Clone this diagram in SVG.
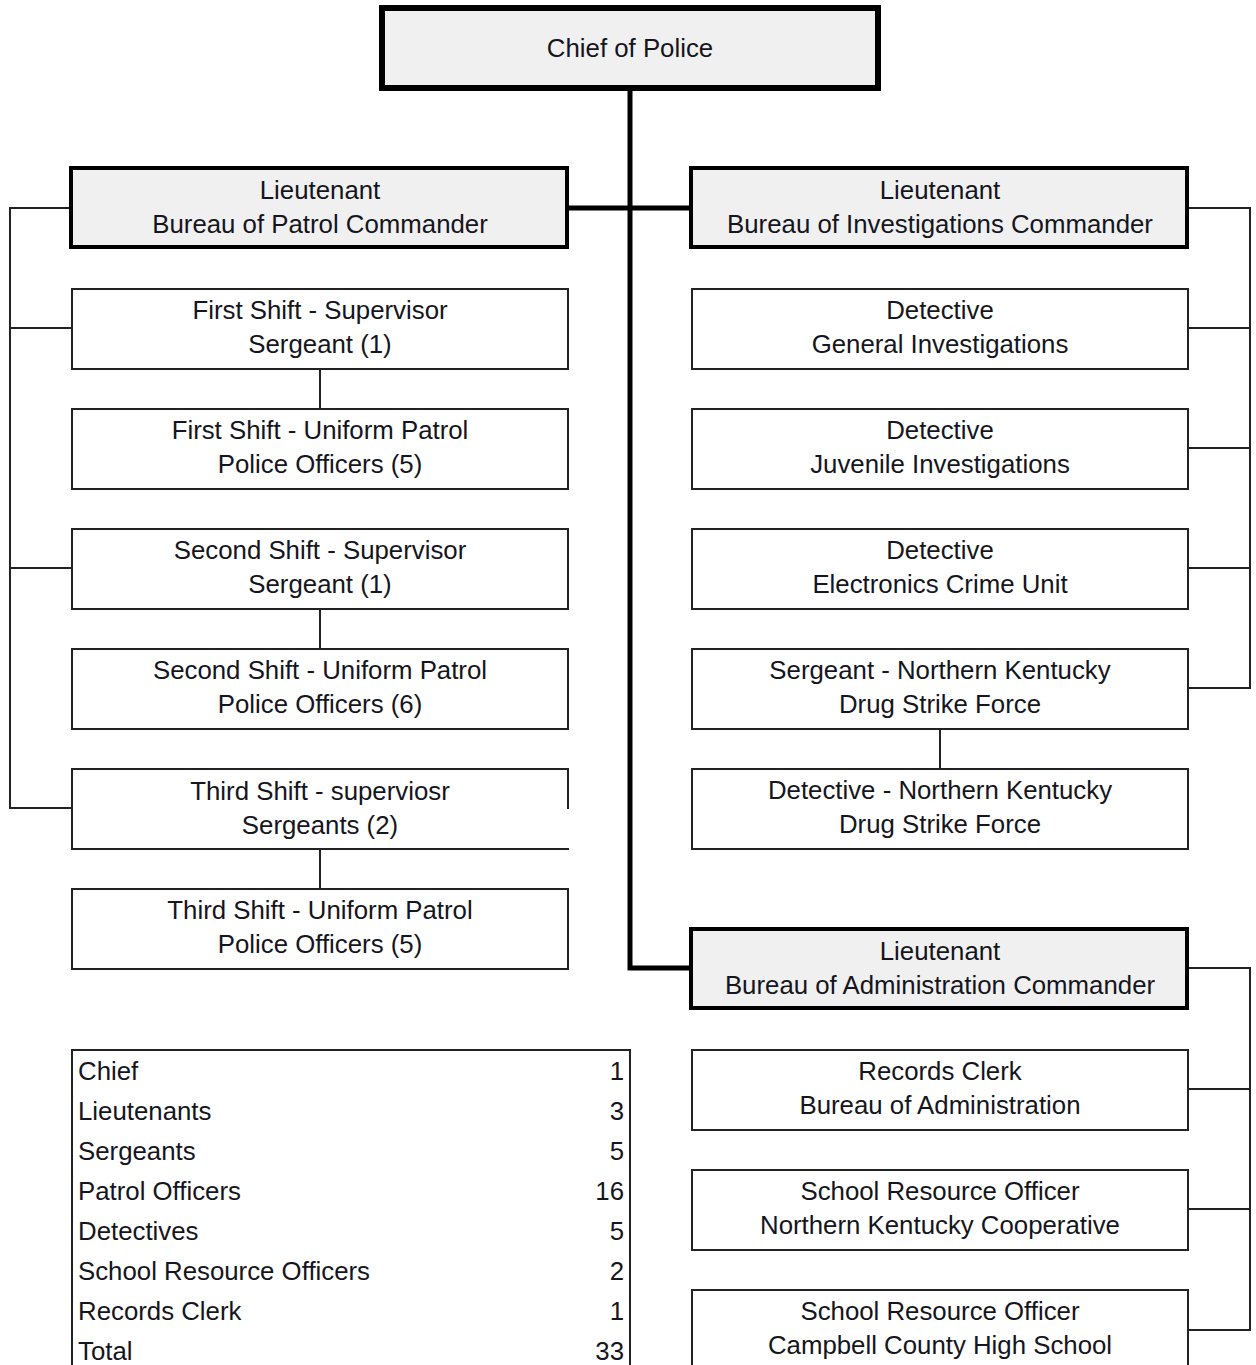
<svg xmlns="http://www.w3.org/2000/svg" width="1256" height="1365" viewBox="0 0 1256 1365">
<style>
text{font-family:"Liberation Sans",Arial,sans-serif;font-size:25.8px;fill:#151520;text-anchor:middle}
.tl{text-anchor:start}
.tr{text-anchor:end}
.box{fill:#fff;stroke:#222;stroke-width:2}
.lt{fill:#f0f0f0;stroke:#000;stroke-width:4}
.chief{fill:#f0f0f0;stroke:#000;stroke-width:6}
.thin{fill:none;stroke:#222;stroke-width:2}
.thick{fill:none;stroke:#000;stroke-width:5}
</style>
<rect width="1256" height="1365" fill="#fff"/>
<g id="connectors">
<path class="thick" d="M630 90 V968 H690"/>
<path class="thick" d="M568 208 H690"/>
<path class="thin" d="M70 208 H10 V808 H72 M10 328 H72 M10 568 H72"/>
<path class="thin" d="M320 369 V409 M320 609 V649 M320 849 V889"/>
<path class="thin" d="M1188 208 H1250 V688 H1188 M1188 328 H1250 M1188 448 H1250 M1188 568 H1250"/>
<path class="thin" d="M940 729 V769"/>
<path class="thin" d="M1188 968 H1250 V1330 H1188 M1188 1089 H1250 M1188 1209 H1250"/>
</g>
<g id="chief"><rect class="chief" x="382" y="8" width="496" height="80"/><text x="630" y="57">Chief of Police</text></g>
<g id="lt-patrol"><rect class="lt" x="71" y="168" width="496" height="79"/><text x="320" y="199">Lieutenant</text><text x="320" y="233">Bureau of Patrol Commander</text></g>
<g id="lt-invest"><rect class="lt" x="691" y="168" width="496" height="79"/><text x="940" y="199">Lieutenant</text><text x="940" y="233">Bureau of Investigations Commander</text></g>
<g id="lt-admin"><rect class="lt" x="691" y="929" width="496" height="79"/><text x="940" y="960">Lieutenant</text><text x="940" y="994">Bureau of Administration Commander</text></g>
<g id="first-sup"><rect class="box" x="72" y="289" width="496" height="80"/><text x="320" y="319">First Shift - Supervisor</text><text x="320" y="353">Sergeant (1)</text></g>
<g id="first-patrol"><rect class="box" x="72" y="409" width="496" height="80"/><text x="320" y="439">First Shift - Uniform Patrol</text><text x="320" y="473">Police Officers (5)</text></g>
<g id="second-sup"><rect class="box" x="72" y="529" width="496" height="80"/><text x="320" y="559">Second Shift - Supervisor</text><text x="320" y="593">Sergeant (1)</text></g>
<g id="second-patrol"><rect class="box" x="72" y="649" width="496" height="80"/><text x="320" y="679">Second Shift - Uniform Patrol</text><text x="320" y="713">Police Officers (6)</text></g>
<g id="third-sup"><path class="thin" d="M568 809 V769 H72 V849 H569"/><text x="320" y="800">Third Shift - superviosr</text><text x="320" y="834">Sergeants (2)</text></g>
<g id="third-patrol"><rect class="box" x="72" y="889" width="496" height="80"/><text x="320" y="919">Third Shift - Uniform Patrol</text><text x="320" y="953">Police Officers (5)</text></g>
<g id="det-general"><rect class="box" x="692" y="289" width="496" height="80"/><text x="940" y="319">Detective</text><text x="940" y="353">General Investigations</text></g>
<g id="det-juvenile"><rect class="box" x="692" y="409" width="496" height="80"/><text x="940" y="439">Detective</text><text x="940" y="473">Juvenile Investigations</text></g>
<g id="det-electronics"><rect class="box" x="692" y="529" width="496" height="80"/><text x="940" y="559">Detective</text><text x="940" y="593">Electronics Crime Unit</text></g>
<g id="sgt-drug"><rect class="box" x="692" y="649" width="496" height="80"/><text x="940" y="679">Sergeant - Northern Kentucky</text><text x="940" y="713">Drug Strike Force</text></g>
<g id="det-drug"><rect class="box" x="692" y="769" width="496" height="80"/><text x="940" y="799">Detective - Northern Kentucky</text><text x="940" y="833">Drug Strike Force</text></g>
<g id="records"><rect class="box" x="692" y="1050" width="496" height="80"/><text x="940" y="1080">Records Clerk</text><text x="940" y="1114">Bureau of Administration</text></g>
<g id="sro-nk"><rect class="box" x="692" y="1170" width="496" height="80"/><text x="940" y="1200">School Resource Officer</text><text x="940" y="1234">Northern Kentucky Cooperative</text></g>
<g id="sro-cc"><rect class="box" x="692" y="1290" width="496" height="90"/><text x="940" y="1320">School Resource Officer</text><text x="940" y="1354">Campbell County High School</text></g>
<g id="table">
<rect class="box" x="72" y="1050" width="558" height="330"/>
<text class="tl" x="78" y="1080">Chief</text><text class="tr" x="624" y="1080">1</text>
<text class="tl" x="78" y="1120">Lieutenants</text><text class="tr" x="624" y="1120">3</text>
<text class="tl" x="78" y="1160">Sergeants</text><text class="tr" x="624" y="1160">5</text>
<text class="tl" x="78" y="1200">Patrol Officers</text><text class="tr" x="624" y="1200">16</text>
<text class="tl" x="78" y="1240">Detectives</text><text class="tr" x="624" y="1240">5</text>
<text class="tl" x="78" y="1280">School Resource Officers</text><text class="tr" x="624" y="1280">2</text>
<text class="tl" x="78" y="1320">Records Clerk</text><text class="tr" x="624" y="1320">1</text>
<text class="tl" x="78" y="1360">Total</text><text class="tr" x="624" y="1360">33</text>
</g>
</svg>
